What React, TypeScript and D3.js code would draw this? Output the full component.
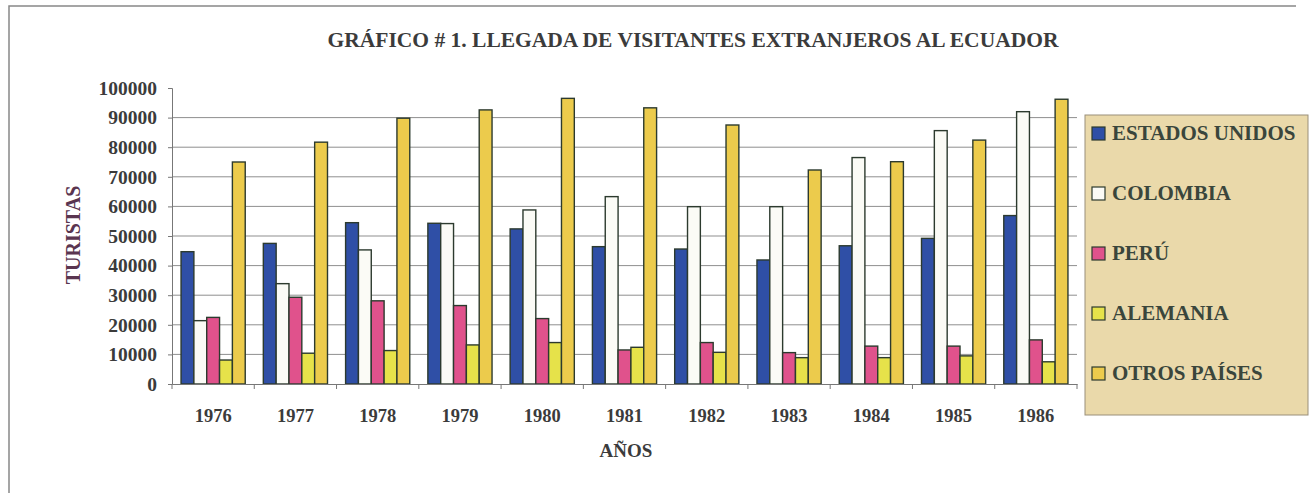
import React, { useEffect, useRef } from 'react';
import * as d3 from 'd3';

const years = ['1976', '1977', '1978', '1979', '1980', '1981', '1982', '1983', '1984', '1985', '1986'];
const seriesNames = ['ESTADOS UNIDOS', 'COLOMBIA', 'PERÚ', 'ALEMANIA', 'OTROS PAÍSES'];
const estadosUnidos = [44700, 47500, 54500, 54300, 52400, 46400, 45600, 41900, 46700, 49200, 56900];
const colombia = [21400, 33900, 45300, 54200, 58800, 63300, 59900, 59900, 76500, 85600, 92000];
const peru = [22500, 29300, 28100, 26500, 22100, 11500, 14000, 10600, 12800, 12800, 14900];
const alemania = [8100, 10400, 11300, 13200, 14000, 12400, 10700, 8900, 8900, 9500, 7500];
const otrosPaises = [75000, 81700, 89800, 92600, 96500, 93300, 87500, 72300, 75100, 82400, 96200];
const yTicks = [0, 10000, 20000, 30000, 40000, 50000, 60000, 70000, 80000, 90000, 100000];
const seriesColors = ['#2f4fa6', '#fbfbf6', '#e0528c', '#e6e24a', '#eccb4c'];

function App() {
  const ref = useRef<SVGSVGElement>(null);

  useEffect(() => {
    const width = 1311;
    const height = 494;
    const margin = { top: 88, right: 234, bottom: 110, left: 172 };
    const font = '"Liberation Serif", "Times New Roman", serif';
    const textColor = '#3b3b3b';

    const svg = d3.select(ref.current);
    svg.selectAll('*').remove();

    const allSeries = [estadosUnidos, colombia, peru, alemania, otrosPaises];

    // chart frame (left and top edges of the scanned border)
    svg.append('path')
      .attr('d', `M9,493 V6 H1296`)
      .attr('fill', 'none')
      .attr('stroke', '#888')
      .attr('stroke-width', 1.5);

    const x0 = d3.scaleBand()
      .domain(years)
      .range([margin.left, width - margin.right])
      .paddingInner(0.22)
      .paddingOuter(0.11);

    const x1 = d3.scaleBand()
      .domain(seriesNames)
      .range([0, x0.bandwidth()]);

    const y = d3.scaleLinear()
      .domain([0, 100000])
      .range([height - margin.bottom, margin.top]);

    // gridlines
    svg.append('g')
      .selectAll('line')
      .data(yTicks.filter(t => t > 0 && t < 100000))
      .join('line')
      .attr('x1', margin.left)
      .attr('x2', width - margin.right)
      .attr('y1', d => y(d))
      .attr('y2', d => y(d))
      .attr('stroke', '#8f8f8f')
      .attr('stroke-width', 1);

    // bars
    years.forEach((yr, i) => {
      svg.append('g')
        .attr('transform', `translate(${x0(yr)},0)`)
        .selectAll('rect')
        .data(seriesNames.map((name, s) => ({ name, value: allSeries[s][i], s })))
        .join('rect')
        .attr('x', d => x1(d.name)!)
        .attr('y', d => y(d.value))
        .attr('width', x1.bandwidth())
        .attr('height', d => y(0) - y(d.value))
        .attr('fill', d => seriesColors[d.s])
        .attr('stroke', '#2c3a2e')
        .attr('stroke-width', 1.4);
    });

    // y axis
    const yAxis = svg.append('g')
      .attr('transform', `translate(${margin.left},0)`)
      .call(d3.axisLeft(y).tickValues(yTicks).tickSize(4).tickPadding(11).tickFormat(d3.format('d')));
    yAxis.select('.domain').attr('stroke', '#777');
    yAxis.selectAll('.tick line').attr('stroke', '#777');
    yAxis.selectAll('text')
      .attr('font-family', font)
      .attr('font-weight', 'bold')
      .attr('font-size', 19.5)
      .attr('fill', textColor);

    // x axis
    const xAxis = svg.append('g')
      .attr('transform', `translate(0,${y(0)})`)
      .call(d3.axisBottom(x0).tickSize(0).tickPadding(25));
    xAxis.select('.domain').attr('stroke', '#777');
    xAxis.selectAll('text')
      .attr('font-family', font)
      .attr('font-weight', 'bold')
      .attr('font-size', 18.5)
      .attr('fill', textColor);
    // category separator ticks
    const step = (width - margin.right - margin.left) / years.length;
    xAxis.append('g')
      .selectAll('line')
      .data(d3.range(years.length + 1))
      .join('line')
      .attr('x1', i => margin.left + i * step)
      .attr('x2', i => margin.left + i * step)
      .attr('y1', 0)
      .attr('y2', 5)
      .attr('stroke', '#777');

    // title
    svg.append('text')
      .attr('x', 693)
      .attr('y', 47)
      .attr('text-anchor', 'middle')
      .attr('font-family', font)
      .attr('font-weight', 'bold')
      .attr('font-size', 21.5)
      .attr('fill', textColor)
      .text('GRÁFICO # 1. LLEGADA DE VISITANTES EXTRANJEROS AL ECUADOR');

    // axis titles
    svg.append('text')
      .attr('transform', 'translate(80,235) rotate(-90)')
      .attr('text-anchor', 'middle')
      .attr('font-family', font)
      .attr('font-weight', 'bold')
      .attr('font-size', 20)
      .attr('fill', '#5a3550')
      .text('TURISTAS');

    svg.append('text')
      .attr('x', 626)
      .attr('y', 457)
      .attr('text-anchor', 'middle')
      .attr('font-family', font)
      .attr('font-weight', 'bold')
      .attr('font-size', 19)
      .attr('fill', textColor)
      .text('AÑOS');

    // legend
    const legend = svg.append('g').attr('transform', 'translate(1085,115)');
    legend.append('rect')
      .attr('width', 223)
      .attr('height', 300)
      .attr('fill', '#ead9aa')
      .attr('stroke', '#9a8f7a')
      .attr('stroke-width', 1);

    const entries = legend.selectAll('g.entry')
      .data(seriesNames)
      .join('g')
      .attr('class', 'entry')
      .attr('transform', (_, i) => `translate(0,${18 + i * 60})`);
    entries.append('rect')
      .attr('x', 7)
      .attr('y', -6)
      .attr('width', 13)
      .attr('height', 13)
      .attr('fill', (_, i) => seriesColors[i])
      .attr('stroke', '#2c3a2e')
      .attr('stroke-width', 1.2);
    entries.append('text')
      .attr('x', 27)
      .attr('y', 7)
      .attr('font-family', font)
      .attr('font-weight', 'bold')
      .attr('font-size', 21)
      .attr('fill', '#3a463c')
      .text(d => d);
  }, []);

  return (
    <svg ref={ref} width={1311} height={494} style={{ display: 'block', position: 'absolute', left: 0, top: 0, background: '#fff' }}></svg>
  );
}

export default App;
